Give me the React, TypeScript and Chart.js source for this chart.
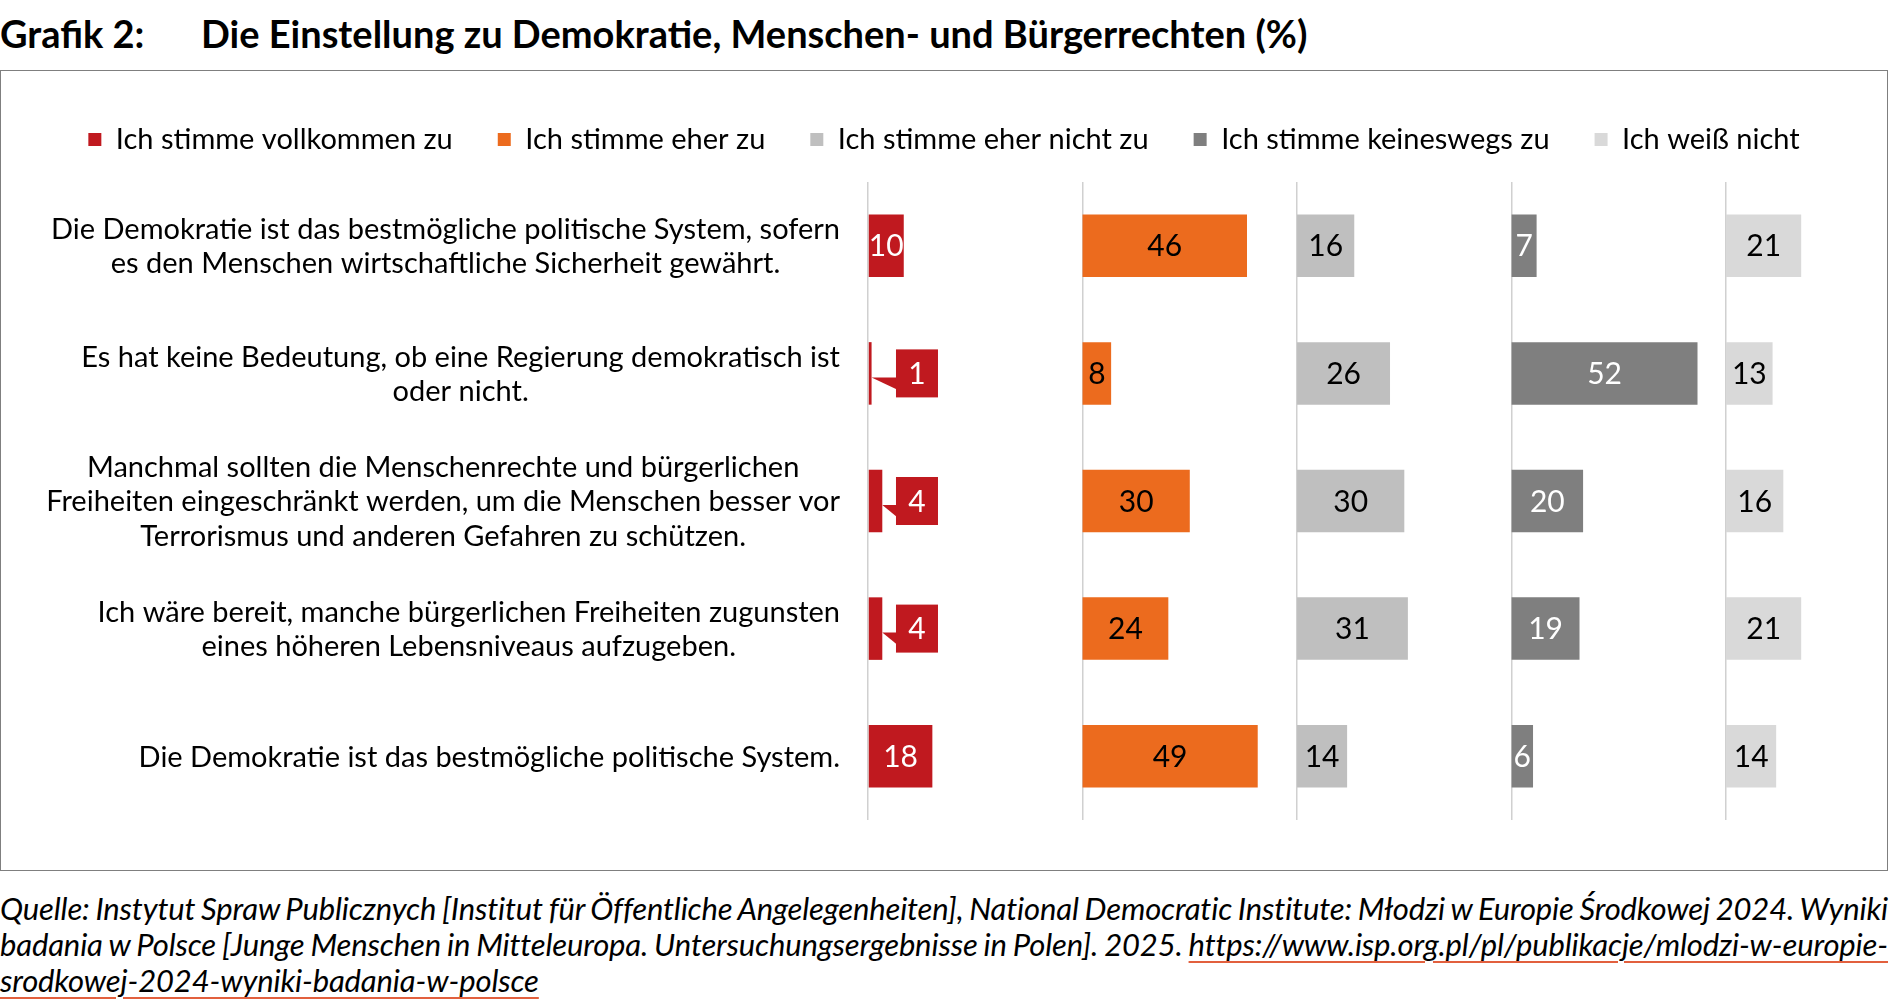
import { useEffect, useRef } from 'react';
import { Chart, registerables } from 'chart.js';

Chart.register(...registerables);

// ---- data ----
const statements: string[][] = [
  ['Die Demokratie ist das bestmögliche politische System, sofern', 'es den Menschen wirtschaftliche Sicherheit gewährt.'],
  ['Es hat keine Bedeutung, ob eine Regierung demokratisch ist', 'oder nicht.'],
  ['Manchmal sollten die Menschenrechte und bürgerlichen', 'Freiheiten eingeschränkt werden, um die Menschen besser vor', 'Terrorismus und anderen Gefahren zu schützen.'],
  ['Ich wäre bereit, manche bürgerlichen Freiheiten zugunsten', 'eines höheren Lebensniveaus aufzugeben.'],
  ['Die Demokratie ist das bestmögliche politische System.'],
];
const seriesNames = [
  'Ich stimme vollkommen zu',
  'Ich stimme eher zu',
  'Ich stimme eher nicht zu',
  'Ich stimme keineswegs zu',
  'Ich weiß nicht',
];
const vollkommen = [10, 1, 4, 4, 18];
const eher = [46, 8, 30, 24, 49];
const eherNicht = [16, 26, 30, 31, 14];
const keineswegs = [7, 52, 20, 19, 6];
const weissNicht = [21, 13, 16, 21, 14];
const seriesValues = [vollkommen, eher, eherNicht, keineswegs, weissNicht];
const panelWidth = 60; // each panel spans 0..60 %
const axisMax = 285;

// ---- styles ----
const colors = ['#C0191F', '#EC6B1E', '#BFBFBF', '#7F7F7F', '#D9D9D9'];
const labelColors = ['#FFFFFF', '#000000', '#000000', '#FFFFFF', '#000000'];
const FONT = 'Lato, "Noto Sans", sans-serif';

const overlayPlugin = {
  id: 'overlayLabels',
  afterDatasetsDraw(chart: any) {
    const ctx = chart.ctx as CanvasRenderingContext2D;
    const yScale = chart.scales.y;
    const xScale = chart.scales.x;
    ctx.save();
    // category labels (centered lines, block right-aligned)
    ctx.font = `29px ${FONT}`;
    ctx.fillStyle = '#000';
    ctx.textBaseline = 'middle';
    ctx.textAlign = 'center';
    const lineH = 34.5;
    const right = chart.chartArea.left - 28;
    statements.forEach((lines, i) => {
      const cy = yScale.getPixelForValue(i);
      const bw = Math.max(...lines.map((l) => ctx.measureText(l).width));
      const cx = right - bw / 2;
      lines.forEach((l, j) => {
        ctx.fillText(l, cx, cy + (j - (lines.length - 1) / 2) * lineH + 1);
      });
    });
    // value labels
    ctx.font = `30px ${FONT}`;
    chart.data.datasets.forEach((_ds: any, di: number) => {
      const meta = chart.getDatasetMeta(di);
      meta.data.forEach((bar: any, i: number) => {
        const v = seriesValues[di][i];
        const { x, base, y } = bar.getProps(['x', 'base', 'y'], true);
        if (di === 0 && v < 5) {
          const cx = xScale.getPixelForValue(di * panelWidth + 13.7);
          const bwid = 42;
          const bh = 48;
          const left = cx - bwid / 2;
          ctx.fillStyle = colors[0];
          ctx.beginPath();
          ctx.moveTo(x, y + 4);
          ctx.lineTo(left + 1, y + 4);
          ctx.lineTo(left + 1, y + 16);
          ctx.closePath();
          ctx.fill();
          ctx.fillRect(left, y - bh / 2, bwid, bh);
          ctx.fillStyle = '#FFFFFF';
          ctx.fillText(String(v), cx, y + 1);
        } else {
          ctx.fillStyle = labelColors[di];
          ctx.fillText(String(v), (x + base) / 2, y + 1);
        }
      });
    });
    ctx.restore();
  },
};

export default function App() {
  const ref = useRef<HTMLCanvasElement>(null);
  useEffect(() => {
    document.body.style.margin = '0';
    const chart = new Chart(ref.current as HTMLCanvasElement, {
      type: 'bar',
      data: {
        labels: statements.map((s) => s.join(' ')),
        datasets: seriesValues.map((vals, i) => ({
          label: seriesNames[i],
          data: vals.map((v) => [i * panelWidth, i * panelWidth + v]) as any,
          backgroundColor: colors[i],
          borderWidth: 0,
          barPercentage: 0.49,
          categoryPercentage: 1,
          grouped: false,
        })),
      },
      options: {
        indexAxis: 'y',
        animation: false,
        responsive: true,
        maintainAspectRatio: false,
        events: [],
        layout: { padding: { top: 9, bottom: 50, left: 0, right: 0 } },
        plugins: {
          tooltip: { enabled: false },
          legend: {
            position: 'top',
            align: 'center',
            labels: {
              font: { family: FONT, size: 29 },
              color: '#000',
              boxWidth: 13,
              boxHeight: 13,
              padding: 45,
            },
          },
        },
        scales: {
          x: {
            type: 'linear',
            position: 'top',
            min: 0,
            max: axisMax,
            ticks: { display: false, stepSize: panelWidth, includeBounds: false },
            grid: { color: '#D0D0D0', lineWidth: 1.5, drawTicks: false },
            border: { display: false },
            afterFit: (s: any) => {
              s.height = 18;
            },
          },
          y: {
            type: 'category',
            ticks: { display: false },
            grid: { display: false },
            border: { display: false },
            afterFit: (s: any) => {
              s.width = 867;
            },
          },
        },
      },
      plugins: [overlayPlugin],
    });
    return () => chart.destroy();
  }, []);

  const linkStyle: any = {
    textDecoration: 'underline',
    textDecorationColor: '#E2603E',
    textUnderlineOffset: '5px',
    textDecorationThickness: '2px',
  };
  const justLine: any = {
    whiteSpace: 'nowrap',
    textAlign: 'justify',
    textAlignLast: 'justify',
    wordSpacing: '-5px',
    letterSpacing: '-0.15px',
    height: 36,
  };

  return (
    <div style={{ position: 'relative', width: 1890, height: 1008, fontFamily: FONT, background: '#fff', color: '#000', overflow: 'hidden' }}>
      <div style={{ position: 'absolute', left: 0, top: 0, height: 66, lineHeight: '66px', fontSize: 38, fontWeight: 700, whiteSpace: 'nowrap' }}>
        <span style={{ display: 'inline-block', width: 201 }}>Grafik 2:</span>
        <span>Die Einstellung zu Demokratie, Menschen- und Bürgerrechten (%)</span>
      </div>
      <div style={{ position: 'absolute', left: 0, top: 70, width: 1888, height: 801, border: '1px solid #7F7F7F', boxSizing: 'border-box' }}>
        <div style={{ position: 'relative', width: 1886, height: 799 }}>
          <canvas ref={ref} />
        </div>
      </div>
      <div style={{ position: 'absolute', left: 0, top: 890, width: 1888, fontSize: 31, fontStyle: 'italic', lineHeight: '36px' }}>
        <div style={justLine}>
          Quelle: Instytut Spraw Publicznych [Institut für Öffentliche Angelegenheiten], National Democratic Institute: Młodzi w Europie Środkowej 2024. Wyniki
        </div>
        <div style={justLine}>
          badania w Polsce [Junge Menschen in Mitteleuropa. Untersuchungsergebnisse in Polen]. 2025.{' '}
          <span style={linkStyle}>https://www.isp.org.pl/pl/publikacje/mlodzi-w-europie-</span>
        </div>
        <div style={{ whiteSpace: 'nowrap', height: 36, letterSpacing: '-0.15px' }}>
          <span style={linkStyle}>srodkowej-2024-wyniki-badania-w-polsce</span>
        </div>
      </div>
    </div>
  );
}
